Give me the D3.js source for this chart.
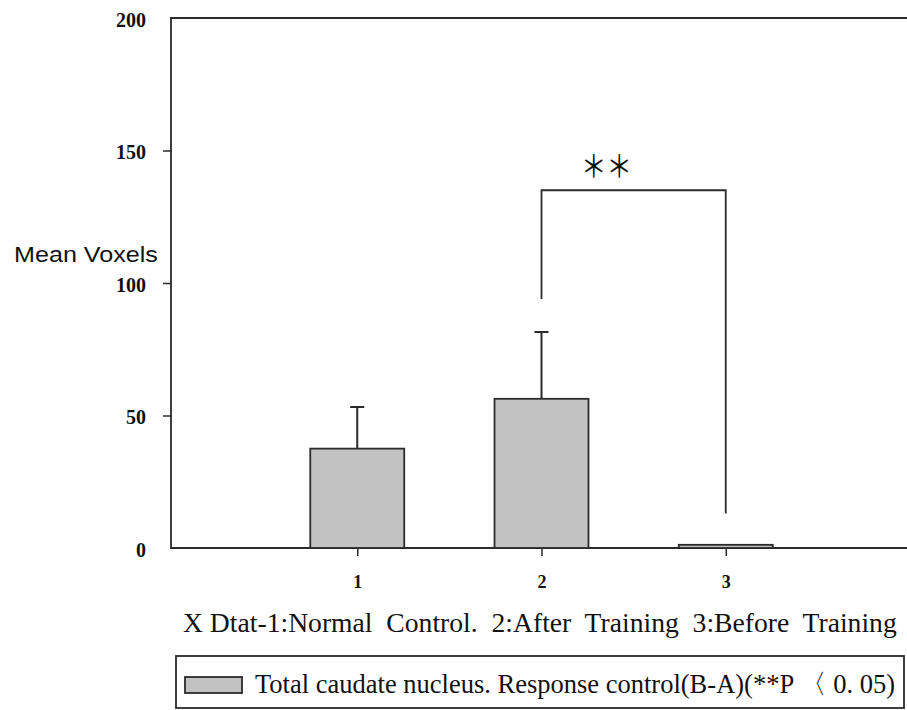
<!DOCTYPE html>
<html>
<head>
<meta charset="utf-8">
<script src="https://cdn.jsdelivr.net/npm/d3@7"></script>
<style>
  body { margin: 0; background: #fff; }
  svg { display: block; }
</style>
</head>
<body>
<script>
var width = 907;
var height = 710;

// data
var categories = [1, 2, 3];
var means = [37.5, 56.3, 1.2];
var errors = [15.7, 25.2, 0];
var yTicks = [0, 50, 100, 150, 200];
var bracketPair = [2, 3];
var bracketLevel = 135;
var bracketLegs = [94, 13];

var serif = "'Times New Roman', 'Liberation Serif', 'DejaVu Serif', serif";
var ink = "#2b2b2b";

var x = d3.scaleLinear().domain([0, 4]).range([173, 910]);
var y = d3.scaleLinear().domain([0, 200]).range([548, 18]);

var svg = d3.select("body").append("svg")
  .attr("width", width)
  .attr("height", height);

// squeeze a text horizontally so it spans [left, right]
function fitText(t, left, right, base) {
  var w = t.node().getComputedTextLength();
  var k = (right - left) / w;
  t.attr("x", 0).attr("y", 0)
    .attr("transform", "translate(" + left + "," + base + ") scale(" + k + ",1)");
}

// frame: left axis, top line and baseline
var x0 = 171, x1 = 907;
svg.append("path")
  .attr("d", "M" + x1 + "," + y(200) + "H" + x0 + "V" + y(0) + "H" + x1)
  .attr("fill", "none")
  .attr("stroke", ink)
  .attr("stroke-width", 1.8);

//y axis
var yAxis = svg.append("g")
  .attr("transform", "translate(" + x0 + ",0)")
  .call(d3.axisLeft(y).tickValues(yTicks).tickSize(8).tickPadding(17).tickSizeOuter(0));
yAxis.select(".domain").remove();
yAxis.selectAll(".tick line")
  .attr("stroke", ink)
  .attr("stroke-width", 1.5)
  .style("display", function (d) { return (d == 0 || d == 200) ? "none" : null; });
yAxis.selectAll(".tick text")
  .attr("fill", "#111")
  .attr("dy", "0.42em")
  .style("font-family", serif)
  .style("font-weight", "bold")
  .style("font-size", "20px");

//x axis
var xAxis = svg.append("g")
  .attr("transform", "translate(0," + y(0) + ")")
  .call(d3.axisBottom(x).tickValues(categories).tickSize(8).tickPadding(19).tickFormat(d3.format("d")));
xAxis.select(".domain").remove();
xAxis.selectAll(".tick line").attr("stroke", ink).attr("stroke-width", 1.5);
xAxis.selectAll(".tick text")
  .attr("fill", "#111")
  .style("font-family", serif)
  .style("font-weight", "bold")
  .style("font-size", "18px");

var halfBar = (x(1) - x(0)) * 0.255;

// error bars (upper only), drawn before bars
var capHalf = 7;
categories.forEach(function (c, i) {
  if (!errors[i]) return;
  var top = y(means[i] + errors[i]);
  svg.append("path")
    .attr("d", "M" + x(c) + "," + y(means[i]) + "V" + top + "M" + (x(c) - capHalf) + "," + top + "H" + (x(c) + capHalf))
    .attr("fill", "none")
    .attr("stroke", ink)
    .attr("stroke-width", 2);
});

svg.selectAll("rect.bar")
  .data(means)
  .enter()
  .append("rect")
  .attr("class", "bar")
  .attr("x", function (d, i) { return x(categories[i]) - halfBar; })
  .attr("y", function (d) { return y(d); })
  .attr("width", halfBar * 2)
  .attr("height", function (d) { return y(0) - y(d); })
  .attr("fill", "#c2c2c2")
  .attr("stroke", ink)
  .attr("stroke-width", 1.8);

// significance bracket
var bx1 = x(bracketPair[0]), bx2 = x(bracketPair[1]);
svg.append("path")
  .attr("d", "M" + bx1 + "," + y(bracketLegs[0]) + "V" + y(bracketLevel) + "H" + bx2 + "V" + y(bracketLegs[1]))
  .attr("fill", "none")
  .attr("stroke", ink)
  .attr("stroke-width", 1.8);

var stars = svg.append("text")
  .style("font-family", "'Noto Sans CJK SC', 'Noto Sans CJK JP', sans-serif")
  .style("font-size", "31px")
  .attr("fill", "#111")
  .text("\uFF0A\uFF0A");
fitText(stars, 581, 632, 177);

// y title
var yTitle = svg.append("text")
  .style("font-family", "'Liberation Sans', Arial, sans-serif")
  .style("font-size", "22px")
  .attr("fill", "#111")
  .text("Mean Voxels");
fitText(yTitle, 14, 158, 262);

// x caption
var caption = svg.append("text")
  .style("white-space", "pre")
  .style("font-family", serif)
  .style("font-size", "27px")
  .attr("fill", "#111")
  .text("X Dtat-1:Normal  Control.  2:After  Training  3:Before  Training");
fitText(caption, 183, 897, 632);

// legend
svg.append("rect")
  .attr("x", 176).attr("y", 656)
  .attr("width", 728).attr("height", 52)
  .attr("fill", "none")
  .attr("stroke", ink)
  .attr("stroke-width", 1.8);
svg.append("rect")
  .attr("x", 185).attr("y", 677)
  .attr("width", 57).attr("height", 16)
  .attr("fill", "#c2c2c2")
  .attr("stroke", ink)
  .attr("stroke-width", 1.8);
var legendText = svg.append("text")
  .style("white-space", "pre")
  .style("font-family", serif)
  .style("font-size", "27px")
  .attr("fill", "#111")
  .text("Total caudate nucleus. Response control(B-A)(**P \u3008 0. 05)");
fitText(legendText, 255, 895, 693);
</script>
</body>
</html>
